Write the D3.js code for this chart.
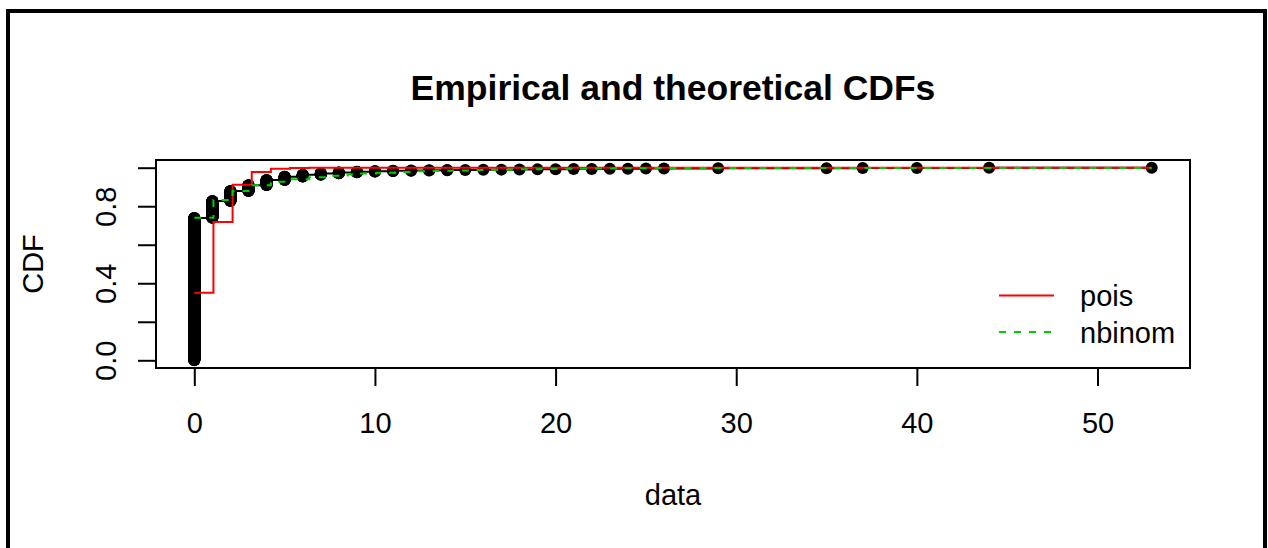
<!DOCTYPE html>
<html><head><meta charset="utf-8">
<script src="https://cdn.jsdelivr.net/npm/d3@7"></script>
<style>
body{margin:0;background:#fff;}
svg{display:block;font-family:"Liberation Sans",Arial,Helvetica,sans-serif;}
</style>
</head><body>
<svg id="c" width="1268" height="548"></svg>
<script>
// ---- data ----
const obsValues = [0,1,2,3,4,5,6,7,8,9,10,11,12,13,14,15,16,17,18,19,20,21,22,23,24,25,26,29,35,37,40,44,53];
const obsCounts = [1109,131,78,46,40,26,15,10,8,6,4,3,2,2,2,1,1,1,1,1,1,1,1,1,1,1,1,1,1,1,1,1,1];

const poisX   = [0,1.06,2.12,3.18,4.24,5.3,6.36,53];
const poisCdf = [0.351,0.718,0.912,0.978,0.995,0.999,1,1];

const nbinomX   = [0,1.06,2.12,3.18,4.24,5.3,6.36,7.42,8.48,9.01,10.07,11.13,12.19,13.25,14.31,15.37,16.43,17.49,18.02,19.08,20.14,21.2,22.26,23.32,24.38,25.44,26.5,53];
const nbinomCdf = [0.740,0.832,0.879,0.909,0.927,0.940,0.950,0.958,0.965,0.970,0.974,0.978,0.981,0.984,0.986,0.988,0.990,0.991,0.992,0.993,0.994,0.995,0.996,0.997,0.997,0.998,0.999,0.999];

const xTicks = [0,10,20,30,40,50];
const yTicks = [0,0.2,0.4,0.6,0.8,1.0];
const yTickLabels = ["0.0","","0.4","","0.8",""];
const legendLabels = ["pois","nbinom"];
const legendColors = ["#FF0000","#00CD00"];
const legendDash = [null,"7,8"];
const titleText = "Empirical and theoretical CDFs";
const xLabel = "data";
const yLabel = "CDF";

// ---- layout ----
const L = 156, R = 1190, T = 160, B = 368;
const svg = d3.select("#c");

// outer device frame
svg.append("rect").attr("x",8).attr("y",11).attr("width",1257).attr("height",560)
  .attr("fill","none").attr("stroke","#000").attr("stroke-width",4);

const x = d3.scaleLinear().domain([-2.12,55.12]).range([L,R]);
const y = d3.scaleLinear().domain([-0.04,1.04]).range([B,T]);

// empirical data
const n = d3.sum(obsCounts);
const pts = [];
const ecdfPts = [];
let rank = 0;
obsValues.forEach((v,i)=>{
  for(let j=0;j<obsCounts[i];j++){ rank++; pts.push([v, rank/n]); }
  ecdfPts.push([v, rank/n]);
});

const stepLine = d3.line().x(d=>x(d[0])).y(d=>y(d[1])).curve(d3.curveStepAfter);

const plot = svg.append("g");
plot.append("path").datum(ecdfPts).attr("d",stepLine)
  .attr("fill","none").attr("stroke","#000").attr("stroke-width",2);
plot.selectAll("circle.p").data(pts).enter().append("circle")
  .attr("cx",d=>x(d[0])).attr("cy",d=>y(d[1])).attr("r",6).attr("fill","#000");

plot.append("path").datum(poisX.map((v,i)=>[v,poisCdf[i]])).attr("d",stepLine)
  .attr("fill","none").attr("stroke",legendColors[0]).attr("stroke-width",2);
plot.append("path").datum(nbinomX.map((v,i)=>[v,nbinomCdf[i]])).attr("d",stepLine)
  .attr("fill","none").attr("stroke",legendColors[1]).attr("stroke-width",2)
  .attr("stroke-dasharray",legendDash[1]);

// plot box
svg.append("rect").attr("x",L).attr("y",T).attr("width",R-L).attr("height",B-T)
  .attr("fill","none").attr("stroke","#000").attr("stroke-width",2);

// x axis
const gx = svg.append("g").attr("transform",`translate(0,${B})`)
  .call(d3.axisBottom(x).tickValues(xTicks).tickSize(18).tickFormat(d3.format("d")));
gx.select(".domain").remove();
gx.selectAll(".tick line").attr("stroke","#000").attr("stroke-width",2);
gx.selectAll(".tick text").attr("y",65).attr("dy",null)
  .attr("font-size",29).attr("fill","#000").attr("font-family",null);

// y axis
const gy = svg.append("g").attr("transform",`translate(${L},0)`)
  .call(d3.axisLeft(y).tickValues(yTicks).tickSize(18).tickFormat((d,i)=>yTickLabels[i]));
gy.select(".domain").remove();
gy.selectAll(".tick line").attr("stroke","#000").attr("stroke-width",2);
gy.selectAll(".tick text").attr("x",null).attr("dy",null)
  .attr("transform","translate(-40,0) rotate(-90)")
  .attr("text-anchor","middle").attr("font-size",29).attr("fill","#000").attr("font-family",null);

// titles
svg.append("text").attr("x",(L+R)/2).attr("y",100).attr("text-anchor","middle")
  .attr("font-size",35.5).attr("font-weight","bold").text(titleText);
svg.append("text").attr("x",(L+R)/2).attr("y",505).attr("text-anchor","middle")
  .attr("font-size",29).text(xLabel);
svg.append("text").attr("transform",`translate(43,${(T+B)/2}) rotate(-90)`)
  .attr("text-anchor","middle").attr("font-size",29).text(yLabel);

// legend
const lg = svg.append("g");
legendLabels.forEach((lab,i)=>{
  const base = 306 + i*36.5;
  lg.append("line").attr("x1",999).attr("x2",1054).attr("y1",base-10.5).attr("y2",base-10.5)
    .attr("stroke",legendColors[i]).attr("stroke-width",2)
    .attr("stroke-dasharray",legendDash[i]);
  lg.append("text").attr("x",1080).attr("y",base).attr("font-size",29).text(lab);
});
</script>
</body></html>
